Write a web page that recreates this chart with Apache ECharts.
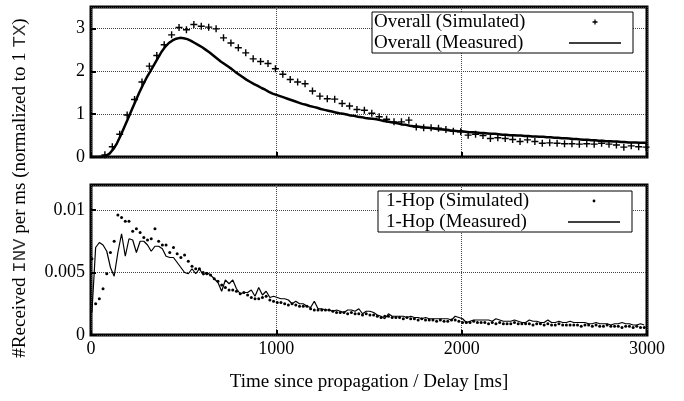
<!DOCTYPE html>
<html><head><meta charset="utf-8">
<script src="https://cdn.jsdelivr.net/npm/echarts@6/dist/echarts.min.js"></script>
<style>html,body{margin:0;padding:0;background:#fff}#c{width:684px;height:401px}</style>
</head><body><div id="c"></div>
<script>
const xTickValues = [0, 1000, 2000, 3000];
const topYTicks = [0, 1, 2, 3];
const bottomYTicks = [0, 0.005, 0.01];

// Overall (Simulated): bins every 40 ms starting at 75 ms
const overallSimStart = 75, overallSimStep = 40;
const overallSim = [0.05,0.24,0.53,0.98,1.34,1.75,2.12,2.37,2.62,2.85,
 3.02,2.97,3.09,3.05,3.03,2.99,2.78,2.66,2.55,2.43,
 2.29,2.23,2.18,2.06,1.93,1.81,1.75,1.71,1.54,1.42,
 1.36,1.35,1.25,1.19,1.11,1.09,1.02,0.94,0.88,0.82,
 0.82,0.86,0.70,0.68,0.68,0.67,0.64,0.60,0.59,0.51,
 0.53,0.50,0.43,0.45,0.43,0.41,0.36,0.40,0.36,0.32,
 0.33,0.32,0.31,0.31,0.30,0.31,0.30,0.32,0.30,0.28,
 0.23,0.26,0.24,0.23];

// Overall (Measured): every 20 ms from 0 ms
const overallMeasStart = 0, overallMeasStep = 20;
const overallMeas = [0,0,0,0.01,0.03,0.08,0.18,0.32,0.50,0.70,0.90,1.10,1.30,1.50,1.68,1.85,2.00,2.15,2.30,2.45,
 2.57,2.66,2.72,2.76,2.78,2.77,2.75,2.71,2.66,2.61,2.56,2.50,2.44,2.37,2.30,2.23,2.17,2.11,2.05,1.98,
 1.92,1.86,1.80,1.75,1.70,1.66,1.61,1.57,1.52,1.48,1.45,
 1.42,1.39,1.36,1.33,1.30,1.27,1.24,1.22,1.19,1.17,1.15,1.12,1.10,1.08,1.06,1.04,1.02,1.01,0.99,0.97,
 0.96,0.94,0.93,0.91,0.90,
 0.89,0.88,0.86,0.84,0.83,0.81,0.80,0.78,0.76,0.75,0.73,0.72,0.71,0.70,0.69,0.68,0.67,0.66,0.65,0.64,
 0.63,0.62,0.61,0.60,0.60,0.59,0.58,0.58,0.57,0.56,0.56,0.55,0.54,0.54,0.53,0.52,0.52,0.51,0.51,0.50,
 0.50,0.49,0.49,0.48,0.48,0.47,0.47,0.46,0.46,0.45,0.45,0.44,0.44,0.43,0.42,0.42,0.41,0.40,0.40,0.39,
 0.39,0.38,0.38,0.37,0.37,0.36,0.36,0.35,0.35,0.34,0.34,0.34,0.33,0.33,0.33];

// 1-Hop: every 20 ms starting at 5 ms
const hopStart = 5, hopStep = 20;
const hopSim = [0.0061,0.0025,0.0029,0.0037,0.0049,0.0066,0.0075,0.0096,0.0094,0.0091,
 0.0091,0.0083,0.0085,0.0082,0.0078,0.0076,0.0077,0.0085,0.0075,0.0072,
 0.0072,0.0066,0.0070,0.0065,0.0062,0.0064,0.0059,0.0055,0.0053,0.0053,
 0.0050,0.0049,0.0048,0.0045,0.0043,
 0.0040,0.0038,0.0036,0.0036,0.0035,0.0033,0.0034,0.0032,0.0030,0.0029,
 0.0029,0.0030,0.0031,0.0028,0.0027,0.0026,0.0026,0.0025,0.0024,0.0025,
 0.0024,0.0023,0.0023,0.0023,0.0021,0.0020,0.0020,0.0020,0.0020,0.0020,
 0.0019,0.0018,0.0018,0.0018,0.0017,0.0018,0.0017,0.0017,0.0016,0.0017,
 0.0016,0.0016,0.0015,0.0014,0.0015,0.0015,0.0014,0.0014,0.0014,0.0013,
 0.0014,0.0013,0.0013,0.0012,0.0013,0.0012,0.0012,0.0012,0.0011,0.0012,
 0.0011,0.0011,0.0012,0.0012,0.0011,0.0010,0.0010,0.0010,0.0011,0.0010,
 0.0010,0.0010,0.0009,0.0010,0.0009,0.0010,0.0009,0.0009,0.0009,0.0010,
 0.0009,0.0009,0.0009,0.0009,0.0008,0.0009,0.0009,0.0008,0.0009,0.0008,
 0.0008,0.0009,0.0008,0.0008,0.0008,0.0008,0.0008,0.0007,0.0008,0.0008,
 0.0007,0.0008,0.0007,0.0007,0.0008,0.0007,0.0007,0.0007,0.0006,0.0007,
 0.0007,0.0006,0.0007,0.0006,0.0006];
const hopMeas = [0.0018,0.0070,0.0074,0.0072,0.0067,0.0054,0.0047,0.0066,0.0081,0.0063,
 0.0077,0.0076,0.0066,0.0075,0.0075,0.0072,0.0067,0.0071,0.0071,0.0069,
 0.0063,0.0062,0.0062,0.0058,0.0054,0.0050,0.0049,0.0053,0.0049,0.0053,
 0.0048,0.0050,0.0048,0.0045,0.0042,
 0.0035,0.0044,0.0041,0.0044,0.0037,0.0033,0.0034,0.0034,0.0036,0.0031,
 0.0038,0.0032,0.0035,0.0030,0.0031,0.0030,0.0029,0.0029,0.0028,0.0025,
 0.0027,0.0025,0.0025,0.0023,0.0022,0.0027,0.0021,0.0021,0.0020,0.0020,
 0.0019,0.0020,0.0019,0.0018,0.0020,0.0020,0.0019,0.0021,0.0017,0.0019,
 0.0019,0.0018,0.0016,0.0015,0.0013,0.0017,0.0015,0.0015,0.0015,0.0015,
 0.0014,0.0015,0.0014,0.0014,0.0013,0.0014,0.0013,0.0013,0.0013,0.0013,
 0.0013,0.0013,0.0012,0.0015,0.0014,0.0013,0.0010,0.0011,0.0012,0.0012,
 0.0012,0.0012,0.0012,0.0011,0.0013,0.0012,0.0011,0.0011,0.0011,0.0012,
 0.0011,0.0010,0.0010,0.0012,0.0011,0.0011,0.0010,0.0010,0.0012,0.0010,
 0.0010,0.0011,0.0010,0.0010,0.0011,0.0010,0.0010,0.0010,0.0010,0.0009,
 0.0009,0.0010,0.0009,0.0009,0.0009,0.0008,0.0009,0.0009,0.0010,0.0009,
 0.0009,0.0008,0.0008,0.0009,0.0008];

function pairs(start, step, arr) { return arr.map((v, i) => [start + i * step, v]); }

const SERIF = "'Liberation Serif','Times New Roman',serif";
const PLUS = 'path://M4,0H6V4H10V6H6V10H4V6H0V4H4Z';
const PLUS_ICON = 'path://M0,0M52,8M25.35,1.5H26.65V3.35H28.5V4.65H26.65V6.5H25.35V4.65H23.5V3.35H25.35Z';
const DOT_ICON = 'path://M0,0M52,8M24.6,4A1.4,1.4 0 1,0 27.4,4A1.4,1.4 0 1,0 24.6,4Z';
const LINE_ICON = 'path://M0,0M52,8M0,3.3H52V4.7H0Z';

function xAxis(gi, showLabels) {
  return {
    gridIndex: gi, type: 'value', min: xTickValues[0], max: xTickValues[xTickValues.length - 1], interval: 1000,
    axisLine: { show: false },
    axisTick: { show: true, inside: true, length: 5, lineStyle: { color: '#000', width: 2 } },
    axisLabel: { show: showLabels, fontFamily: SERIF, fontSize: 18, color: '#000', margin: 5,
      formatter: v => xTickValues.includes(v) ? String(v) : '' },
    splitLine: { show: true, lineStyle: { type: 'dotted', color: '#444', width: 1 } }
  };
}
function yAxis(gi, max, interval, ticks) {
  return {
    gridIndex: gi, type: 'value', min: 0, max: max, interval: interval,
    axisLine: { show: false },
    axisTick: { show: true, inside: true, length: 5, lineStyle: { color: '#000', width: 2 } },
    axisLabel: { fontFamily: SERIF, fontSize: 18, color: '#000', margin: 6, showMaxLabel: false,
      formatter: v => ticks.includes(v) ? String(v) : '' },
    splitLine: { show: true, lineStyle: { type: 'dotted', color: '#444', width: 1 } }
  };
}
function legend(left, top, padLeft, textW, names, icons) {
  return {
    orient: 'vertical', left: left, top: top, align: 'right', itemWidth: 52, itemHeight: 8, itemGap: 1,
    padding: [0, 12, 0, padLeft], borderColor: '#000', borderWidth: 1, backgroundColor: '#fff',
    selectedMode: false,
    formatter: n => '{a|' + n + '}',
    textStyle: { color: '#000', fontFamily: SERIF, fontSize: 19, lineHeight: 20,
      rich: { a: { width: textW, align: 'left', fontFamily: SERIF, fontSize: 19, lineHeight: 20, color: '#000' } } },
    data: [
      { name: names[0], icon: icons[0], itemStyle: { color: '#000' } },
      { name: names[1], icon: LINE_ICON, itemStyle: { color: '#000' } }
    ]
  };
}

const chart = echarts.init(document.getElementById('c'), null, { renderer: 'canvas' });
chart.setOption({
  animation: false,
  backgroundColor: '#fff',
  grid: [
    { left: 91, top: 7, width: 556, height: 150, show: true, borderColor: '#000', borderWidth: 3, backgroundColor: 'transparent' },
    { left: 91, top: 185, width: 556, height: 150, show: true, borderColor: '#000', borderWidth: 3, backgroundColor: 'transparent' }
  ],
  xAxis: [xAxis(0, false), xAxis(1, true)],
  yAxis: [yAxis(0, 3.5, 1, topYTicks), yAxis(1, 0.012, 0.005, bottomYTicks)],
  legend: [
    legend(372, 12, 2, 190, ['Overall (Simulated)', 'Overall (Measured)'], [PLUS_ICON]),
    legend(378, 191, 8, 177, ['1-Hop (Simulated)', '1-Hop (Measured)'], [DOT_ICON])
  ],
  series: [
    { name: 'Overall (Measured)', type: 'line', xAxisIndex: 0, yAxisIndex: 0, symbol: 'none',
      lineStyle: { color: '#000', width: 2.5 }, itemStyle: { color: '#000' },
      data: pairs(overallMeasStart, overallMeasStep, overallMeas), z: 2 },
    { name: 'Overall (Simulated)', type: 'scatter', xAxisIndex: 0, yAxisIndex: 0, symbol: PLUS, symbolSize: 7,
      symbolKeepAspect: true, itemStyle: { color: '#000', opacity: 1 },
      data: pairs(overallSimStart, overallSimStep, overallSim), z: 3 },
    { name: '1-Hop (Measured)', type: 'line', xAxisIndex: 1, yAxisIndex: 1, symbol: 'none',
      lineStyle: { color: '#000', width: 1.2 }, itemStyle: { color: '#000' },
      data: pairs(hopStart, hopStep, hopMeas), z: 2 },
    { name: '1-Hop (Simulated)', type: 'scatter', xAxisIndex: 1, yAxisIndex: 1, symbol: 'circle', symbolSize: 3,
      itemStyle: { color: '#000', opacity: 1 },
      data: pairs(hopStart, hopStep, hopSim), z: 3 }
  ],
  graphic: [
    { type: 'text', x: 20, y: 188, rotation: Math.PI / 2,
      style: { text: '{a|#Received }{m|INV}{a| per ms (normalized to 1 }{m|TX}{a|)}',
        rich: { a: { font: "19px 'Liberation Serif'", fill: '#000' }, m: { font: "19px 'Liberation Mono'", fill: '#333' } },
        align: 'center', verticalAlign: 'middle' } },
    { type: 'text', x: 369, y: 382,
      style: { text: 'Time since propagation / Delay [ms]', font: "19px 'Liberation Serif'", fill: '#000',
        align: 'center', verticalAlign: 'middle' } }
  ]
});
</script></body></html>
